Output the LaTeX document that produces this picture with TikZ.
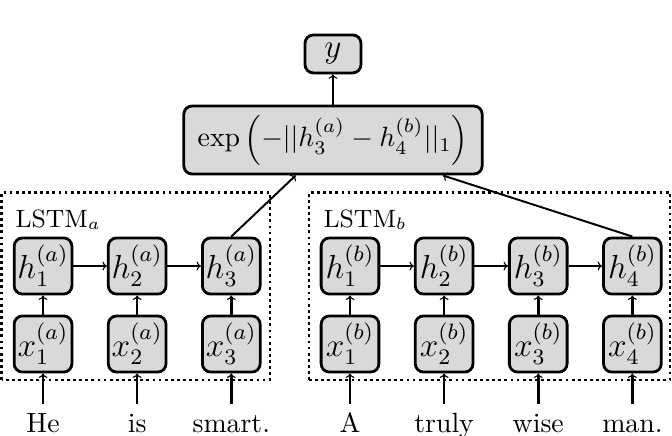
\documentclass[tikz,border=0pt]{standalone}
\usepackage{amsmath, amssymb}
\usepackage{xcolor}
\usetikzlibrary{arrows.meta}

\tikzset{
  cell/.style={draw, line width=1pt, rounded corners=3pt, fill=black!15,
    minimum width=0.73cm, minimum height=0.71cm, inner sep=0.5pt, font=\large},
  word/.style={anchor=base, text height=1.6ex, text depth=0.3ex},
  lstmbox/.style={line width=1pt, dash pattern=on 1pt off 1.2pt},
  conn/.style={-{To[length=1.6pt, width=3.2pt, line width=0.4pt]}, line width=0.5pt},
  feed/.style={conn, line width=0.9pt},
}

\begin{document}
\begin{tikzpicture}
        \useasboundingbox (0,0) rectangle (8.496,5.512);

        % the two LSTM frames
        \draw[lstmbox] (0.02,0.708) rectangle (3.414,3.08);
        \draw[lstmbox] (3.907,0.708) rectangle (8.471,3.08);
        \node[anchor=base west, inner sep=0pt, font=\small] (laba) at (0.19,2.642) {LSTM$_a$};
        \node[anchor=base west, inner sep=0pt, font=\small] (labb) at (4.084,2.642) {LSTM$_b$};

        \node[cell] (h1a) at (0.544,2.149) {$h_1^{(a)}$};
        \node[cell] (h2a) at (1.734,2.149) {$h_2^{(a)}$};
        \node[cell] (h3a) at (2.924,2.149) {$h_3^{(a)}$};
        \node[cell] (h1b) at (4.425,2.149) {$h_1^{(b)}$};
        \node[cell] (h2b) at (5.615,2.149) {$h_2^{(b)}$};
        \node[cell] (h3b) at (6.805,2.149) {$h_3^{(b)}$};
        \node[cell] (h4b) at (7.995,2.149) {$h_4^{(b)}$};

        \node[cell] (x1a) at (0.544,1.163) {$x_1^{(a)}$};
        \node[cell] (x2a) at (1.734,1.163) {$x_2^{(a)}$};
        \node[cell] (x3a) at (2.924,1.163) {$x_3^{(a)}$};
        \node[cell] (x1b) at (4.425,1.163) {$x_1^{(b)}$};
        \node[cell] (x2b) at (5.615,1.163) {$x_2^{(b)}$};
        \node[cell] (x3b) at (6.805,1.163) {$x_3^{(b)}$};
        \node[cell] (x4b) at (7.995,1.163) {$x_4^{(b)}$};

        \node[word] (w1a) at (0.544,0.038) {He};
        \node[word] (w2a) at (1.734,0.038) {is};
        \node[word] (w3a) at (2.924,0.038) {smart.};
        \node[word] (w1b) at (4.425,0.038) {A};
        \node[word] (w2b) at (5.615,0.038) {truly};
        \node[word] (w3b) at (6.805,0.038) {wise};
        \node[word] (w4b) at (7.995,0.038) {man.};

        \node[cell, font=\normalsize, minimum width=3.717cm, minimum height=0.86cm, inner xsep=5pt] (dist) at (4.21,3.742)
            {$\exp\left(-||h_3^{(a)} - h_4^{(b)}||_1\right)$};
        \node[cell, minimum width=0.708cm, minimum height=0.48cm] (y) at (4.21,4.83) {$y$};

        \draw[conn] (h1a) -- (h2a);
        \draw[conn] (h2a) -- (h3a);
        \draw[conn] (h1b) -- (h2b);
        \draw[conn] (h2b) -- (h3b);
        \draw[conn] (h3b) -- (h4b);

        \draw[feed] (x1a) -- (h1a);
        \draw[feed] (x2a) -- (h2a);
        \draw[feed] (x3a) -- (h3a);
        \draw[feed] (x1b) -- (h1b);
        \draw[feed] (x2b) -- (h2b);
        \draw[feed] (x3b) -- (h3b);
        \draw[feed] (x4b) -- (h4b);

        \draw[feed] (w1a) -- (x1a);
        \draw[feed] (w2a) -- (x2a);
        \draw[feed] (w3a) -- (x3a);
        \draw[feed] (w1b) -- (x1b);
        \draw[feed] (w2b) -- (x2b);
        \draw[feed] (w3b) -- (x3b);
        \draw[feed] (w4b) -- (x4b);

        \draw[conn, line width=0.7pt] (h3a.north) -- (dist);
        \draw[conn, line width=0.7pt] (h4b.north) -- (dist);
        \draw[feed] (dist) -- (y);
    \end{tikzpicture}
\end{document}
